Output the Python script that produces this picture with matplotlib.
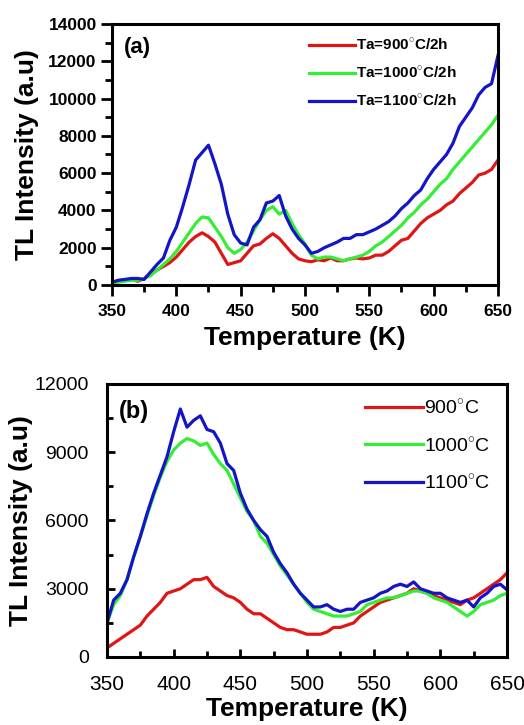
import numpy as np
from matplotlib import pyplot as plt
from matplotlib.ticker import MultipleLocator

plt.rcParams['font.family'] = ['Liberation Sans', 'DejaVu Sans']

temps = list(range(350, 655, 5))

# panel (a): annealing at Ta for 2h
red_a = [100, 250, 250, 300, 200, 350, 600, 800, 1000, 1200, 1500, 1900, 2300, 2600, 2800,
         2600, 2300, 1700, 1100, 1200, 1300, 1700, 2100, 2200, 2500, 2750, 2500, 2100, 1700,
         1400, 1300, 1250, 1350, 1300, 1450, 1300, 1300, 1400, 1450, 1400, 1450, 1600, 1600,
         1800, 2100, 2400, 2500, 2900, 3300, 3600, 3800, 4000, 4300, 4500, 4900, 5200, 5500,
         5900, 6000, 6200, 6700]
green_a = [100, 150, 200, 250, 250, 350, 500, 800, 1100, 1400, 1800, 2300, 2800, 3300, 3650,
           3600, 3100, 2600, 2000, 1700, 1900, 2300, 2900, 3500, 4000, 4200, 3800, 4000, 3300,
           2700, 2200, 1600, 1400, 1500, 1500, 1400, 1300, 1400, 1500, 1600, 1800, 2100, 2300,
           2600, 2900, 3200, 3600, 3900, 4300, 4600, 5000, 5400, 5700, 6200, 6600, 7000, 7400,
           7800, 8200, 8600, 9100]
blue_a = [150, 250, 300, 350, 350, 300, 700, 1100, 1450, 2400, 3100, 4200, 5400, 6700, 7100,
          7500, 6500, 5400, 3800, 2700, 2250, 2150, 3100, 3500, 4400, 4500, 4800, 3700, 3000,
          2500, 2150, 1700, 1800, 2000, 2150, 2300, 2500, 2500, 2700, 2700, 2850, 3000, 3200,
          3400, 3700, 4100, 4400, 4800, 5100, 5700, 6200, 6600, 7000, 7600, 8500, 9000, 9500,
          10200, 10600, 10800, 12300]
labels_a = ['Ta=900$^{\\circ}$C/2h', 'Ta=1000$^{\\circ}$C/2h', 'Ta=1100$^{\\circ}$C/2h']

# panel (b)
red_b = [400, 600, 800, 1000, 1200, 1400, 1800, 2100, 2400, 2800, 2900, 3000, 3200, 3400, 3400,
         3500, 3100, 2900, 2700, 2600, 2400, 2100, 1900, 1900, 1700, 1500, 1300, 1200, 1200,
         1100, 1000, 1000, 1000, 1100, 1300, 1300, 1400, 1500, 1800, 2000, 2200, 2400, 2500,
         2600, 2700, 2800, 3000, 2900, 2800, 2700, 2600, 2500, 2400, 2300, 2500, 2600, 2800,
         3000, 3200, 3400, 3700]
green_b = [1500, 2300, 2700, 3400, 4400, 5300, 6200, 7100, 7900, 8600, 9100, 9400, 9600, 9500,
           9300, 9400, 8900, 8500, 8200, 7600, 7000, 6400, 6000, 5300, 5000, 4500, 4000, 3600,
           3200, 2800, 2400, 2100, 2000, 1900, 1800, 1800, 1800, 1900, 2000, 2300, 2400, 2500,
           2600, 2600, 2700, 2800, 2900, 2900, 2800, 2600, 2500, 2400, 2200, 2000, 1800, 2000,
           2300, 2400, 2500, 2700, 2800]
blue_b = [1500, 2500, 2800, 3400, 4400, 5300, 6300, 7200, 8000, 8800, 9900, 10900, 10100, 10400,
          10600, 10000, 9900, 9400, 8500, 8200, 7200, 6500, 6000, 5600, 5300, 4600, 4100, 3700,
          3200, 2800, 2500, 2200, 2200, 2300, 2100, 2000, 2100, 2100, 2400, 2500, 2600, 2800,
          2900, 3100, 3200, 3100, 3300, 3000, 2900, 2800, 2800, 2600, 2500, 2400, 2500, 2200,
          2600, 2800, 3100, 3200, 2950]
labels_b = ['900$^{\\circ}$C', '1000$^{\\circ}$C', '1100$^{\\circ}$C']

colors = ['#e01515', '#33ee33', '#1414c8']

plt.rcParams['mathtext.fontset'] = 'custom'
plt.rcParams['mathtext.rm'] = 'Liberation Sans'
plt.rcParams['mathtext.bf'] = 'Liberation Sans:bold'

fig = plt.figure(figsize=(5.24, 7.25), dpi=100)
ax_a = fig.add_axes([0.2137, 0.6069, 0.7366, 0.36])
ax_b = fig.add_axes([0.2042, 0.0938, 0.7634, 0.3766])

for ys, c, lab in zip([red_a, green_a, blue_a], colors, labels_a):
    ax_a.plot(temps, ys, color=c, lw=2.3, label=lab)
for ys, c, lab in zip([red_b, green_b, blue_b], colors, labels_b):
    ax_b.plot(temps, ys, color=c, lw=2.3, label=lab)

# top panel
ax_a.set_xlim(350, 650)
ax_a.set_ylim(0, 14000)
ax_a.xaxis.set_major_locator(MultipleLocator(50))
ax_a.xaxis.set_minor_locator(MultipleLocator(25))
ax_a.yaxis.set_major_locator(MultipleLocator(2000))
ax_a.yaxis.set_minor_locator(MultipleLocator(1000))
ax_a.tick_params(which='major', direction='out', length=8, width=2, labelsize=12.5, pad=3)
ax_a.tick_params(axis='x', pad=6)
ax_a.tick_params(which='minor', direction='out', length=5, width=2)
for lab in ax_a.get_xticklabels() + ax_a.get_yticklabels():
    lab.set_fontweight('bold')
ax_a.set_xlabel('Temperature (K)', fontsize=19, fontweight='bold', labelpad=5)
ax_a.set_ylabel('TL Intensity (a.u)', fontsize=19, fontweight='bold', labelpad=7)
ax_a.text(0.03, 0.95, '(a)', transform=ax_a.transAxes, fontsize=16, fontweight='bold',
          va='top', ha='left')
ax_a.legend(loc='upper left', bbox_to_anchor=(0.475, 1.0), frameon=False, handlelength=3.0,
            handletextpad=0.05, labelspacing=0.85, prop={'weight': 'bold', 'size': 11})

# bottom panel
ax_b.set_xlim(350, 650)
ax_b.set_ylim(0, 12000)
ax_b.xaxis.set_major_locator(MultipleLocator(50))
ax_b.xaxis.set_minor_locator(MultipleLocator(25))
ax_b.yaxis.set_major_locator(MultipleLocator(3000))
ax_b.yaxis.set_minor_locator(MultipleLocator(1500))
ax_b.tick_params(which='major', direction='in', length=6, width=2, labelsize=14, pad=13)
ax_b.tick_params(which='minor', direction='in', length=4, width=2)
ax_b.tick_params(axis='x', labelsize=15)
ax_b.set_xlabel('Temperature (K)', fontsize=19, fontweight='bold', labelpad=2)
ax_b.set_ylabel('TL Intensity (a.u)', fontsize=19, fontweight='bold', labelpad=1)
ax_b.text(0.03, 0.94, '(b)', transform=ax_b.transAxes, fontsize=17, fontweight='bold',
          va='top', ha='left')
ax_b.legend(loc='upper left', bbox_to_anchor=(0.6, 1.01), frameon=False, handlelength=3.0,
            handletextpad=0.05, labelspacing=0.95, prop={'size': 14})

for ax in (ax_a, ax_b):
    for sp in ax.spines.values():
        sp.set_linewidth(2.2)

fig.savefig('out.png', dpi=100)
